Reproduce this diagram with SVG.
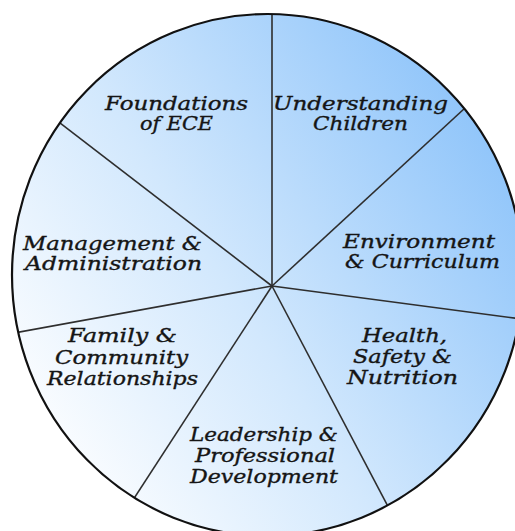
<svg xmlns="http://www.w3.org/2000/svg" width="515" height="531" viewBox="0 0 515 531">
  <defs>
    <!-- soft diagonal fill: white lower-left to sky blue upper-right -->
    <linearGradient id="discFill" gradientUnits="userSpaceOnUse" x1="40" y1="470" x2="520" y2="160">
      <stop offset="0" stop-color="#ffffff"/>
      <stop offset="0.45" stop-color="#d2e8fd"/>
      <stop offset="1" stop-color="#8ec4fa"/>
    </linearGradient>
    <clipPath id="discClip">
      <ellipse cx="267.5" cy="275" rx="255.5" ry="261"/>
    </clipPath>
    <style>
      .spoke { stroke: #2e2e2e; stroke-width: 1.6; fill: none; }
      .rim { fill: none; stroke: #111111; stroke-width: 2.2; }
      .label { font-family: "DejaVu Serif", "Liberation Serif", serif; font-style: italic;
               font-size: 18px; fill: #151515; stroke: #151515; stroke-width: 0.35;
               text-anchor: middle; }
    </style>
  </defs>

  <rect x="0" y="0" width="515" height="531" fill="#ffffff"/>

  <!-- disc body -->
  <ellipse id="disc" cx="267.5" cy="275" rx="255.5" ry="261" fill="url(#discFill)"/>

  <!-- dividing spokes from the hub -->
  <g id="connectors" clip-path="url(#discClip)">
    <line class="spoke" x1="272" y1="286" x2="272" y2="0"/>
    <line class="spoke" x1="272" y1="286" x2="561.5" y2="19"/>
    <line class="spoke" x1="272" y1="286" x2="612" y2="331"/>
    <line class="spoke" x1="272" y1="286" x2="423" y2="573"/>
    <line class="spoke" x1="272" y1="286" x2="94" y2="560"/>
    <line class="spoke" x1="272" y1="286" x2="-30" y2="341"/>
    <line class="spoke" x1="272" y1="286" x2="17.6" y2="90.4"/>
  </g>

  <ellipse class="rim" cx="267.5" cy="275" rx="255.5" ry="261"/>

  <g id="foundations">
    <text class="label" x="176.5" y="110" textLength="143" lengthAdjust="spacingAndGlyphs">Foundations</text>
    <text class="label" x="176.5" y="130" textLength="73" lengthAdjust="spacingAndGlyphs">of ECE</text>
  </g>
  <g id="understanding">
    <text class="label" x="360.5" y="110" textLength="175" lengthAdjust="spacingAndGlyphs">Understanding</text>
    <text class="label" x="360.5" y="130" textLength="95" lengthAdjust="spacingAndGlyphs">Children</text>
  </g>
  <g id="environment">
    <text class="label" x="419" y="248" textLength="152" lengthAdjust="spacingAndGlyphs">Environment</text>
    <text class="label" x="422.5" y="268" textLength="155" lengthAdjust="spacingAndGlyphs">&amp; Curriculum</text>
  </g>
  <g id="health">
    <text class="label" x="404.5" y="342" textLength="85" lengthAdjust="spacingAndGlyphs">Health,</text>
    <text class="label" x="402.5" y="363" textLength="99" lengthAdjust="spacingAndGlyphs">Safety &amp;</text>
    <text class="label" x="402.5" y="384" textLength="111" lengthAdjust="spacingAndGlyphs">Nutrition</text>
  </g>
  <g id="leadership">
    <text class="label" x="264" y="441" textLength="148" lengthAdjust="spacingAndGlyphs">Leadership &amp;</text>
    <text class="label" x="265" y="462" textLength="140" lengthAdjust="spacingAndGlyphs">Professional</text>
    <text class="label" x="264" y="483" textLength="148" lengthAdjust="spacingAndGlyphs">Development</text>
  </g>
  <g id="family">
    <text class="label" x="122.5" y="342" textLength="109" lengthAdjust="spacingAndGlyphs">Family &amp;</text>
    <text class="label" x="121.5" y="364" textLength="133" lengthAdjust="spacingAndGlyphs">Community</text>
    <text class="label" x="122.5" y="385" textLength="151" lengthAdjust="spacingAndGlyphs">Relationships</text>
  </g>
  <g id="management">
    <text class="label" x="112.5" y="250" textLength="179" lengthAdjust="spacingAndGlyphs">Management &amp;</text>
    <text class="label" x="113.5" y="270" textLength="177" lengthAdjust="spacingAndGlyphs">Administration</text>
  </g>
</svg>
